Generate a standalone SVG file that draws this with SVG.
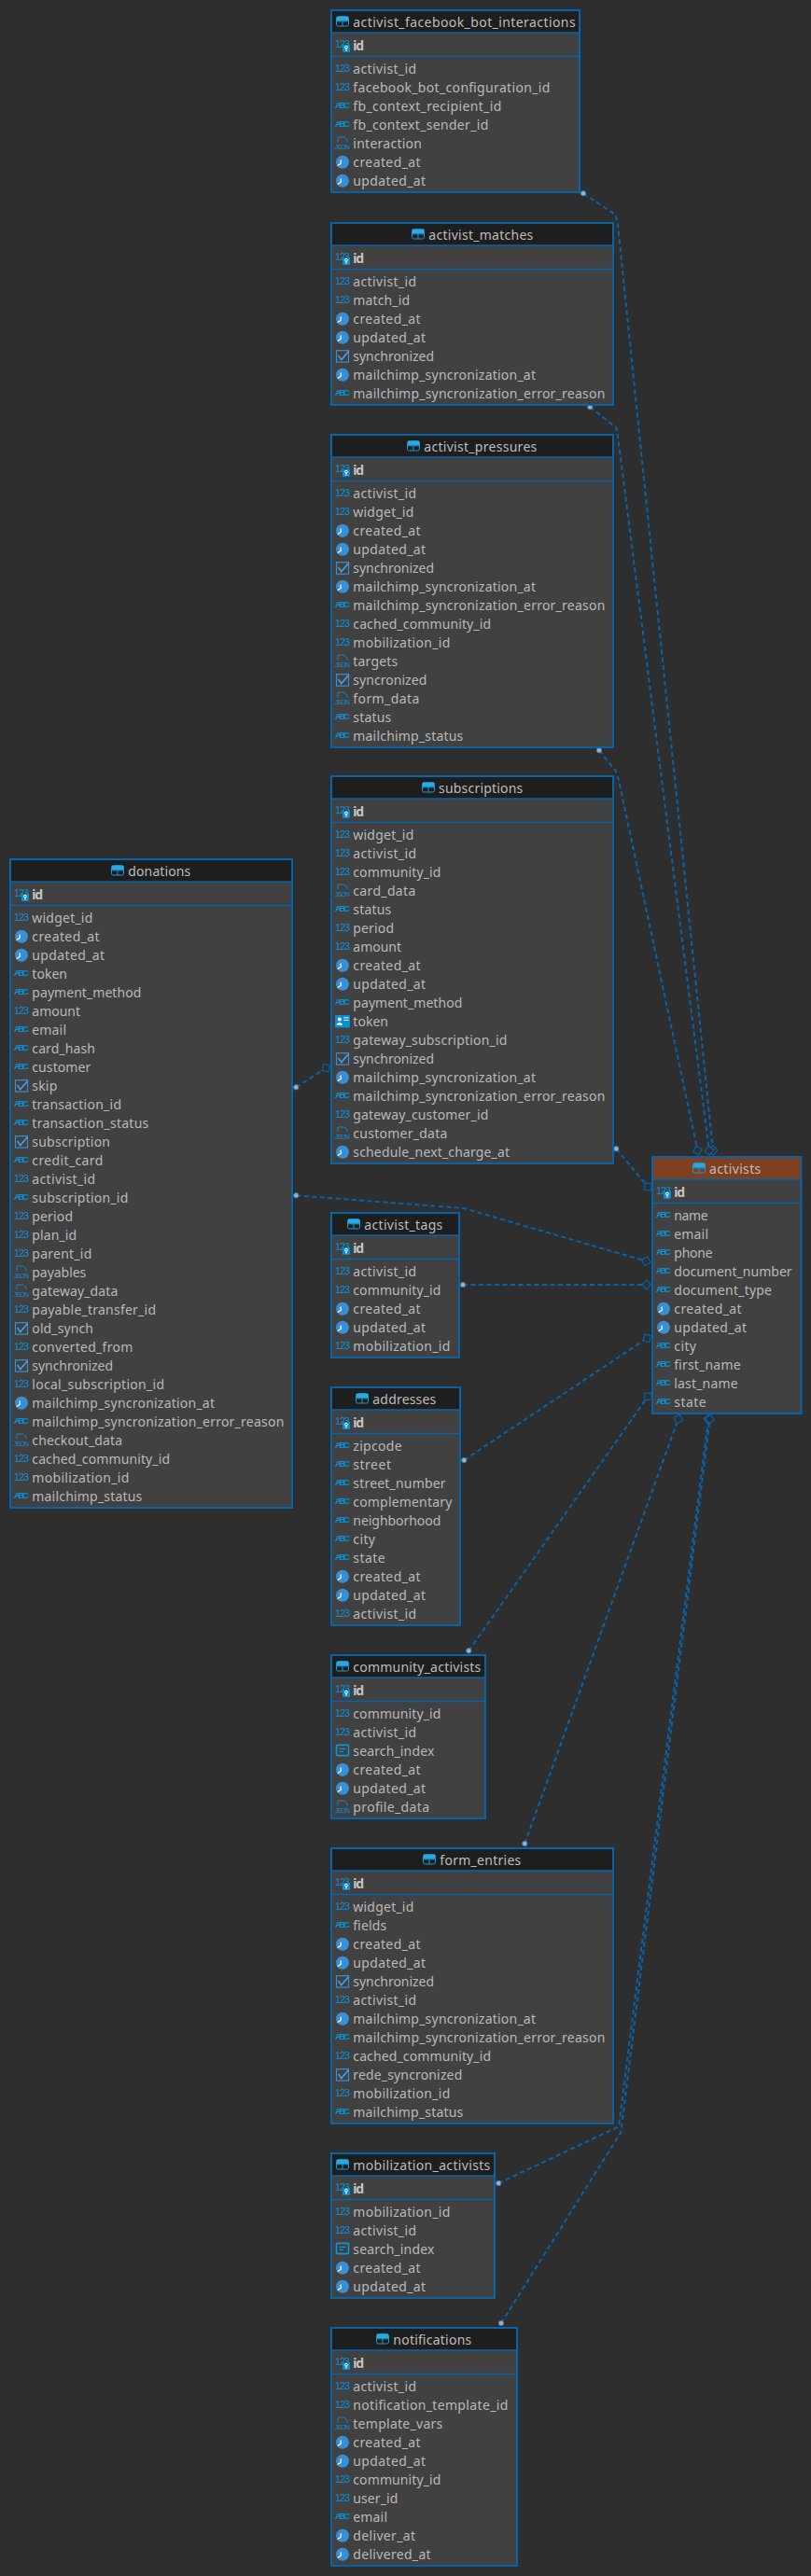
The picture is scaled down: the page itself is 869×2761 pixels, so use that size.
<svg xmlns="http://www.w3.org/2000/svg" width="869" height="2761" viewBox="0 0 869 2761">
<style>
text{font-family:"Noto Sans","Open Sans","DejaVu Sans",sans-serif;font-size:14px;fill:#b9b9b9}
.p{font-weight:700;fill:#c6c6c6}
.t{fill:#bdbdbd;font-size:14px}
.b{fill:#414141;stroke:#0664ad;stroke-width:2}
.h{fill:#1e1e1e}
.ha{fill:#7f401f}
.l{stroke:#0664ad;stroke-width:1.3;fill:none}
.c{fill:none;stroke:#0664ad;stroke-width:2;stroke-dasharray:5 3.5;marker-start:url(#dot);marker-end:url(#dia)}
.ic{fill:#0a8fd4;font-family:"Liberation Sans",sans-serif}
</style>
<defs>
<marker id="dot" markerUnits="userSpaceOnUse" markerWidth="8" markerHeight="8" refX="4" refY="4" overflow="visible"><circle cx="4" cy="4" r="2.7" fill="#a3aeb8" stroke="#2a78b8" stroke-width="0.9" stroke-dasharray="none"/></marker>
<marker id="dia" markerUnits="userSpaceOnUse" markerWidth="12" markerHeight="12" refX="6" refY="6" orient="auto" overflow="visible"><path d="M1 6 6 1 11 6 6 11Z" fill="#2e2e2e" stroke="#0664ad" stroke-width="1.1"/></marker>
<g id="n"><text class="ic" y="-2.4" textLength="16" style="font-size:11px">123</text></g>
<g id="a"><text class="ic" y="-2.6" textLength="16" style="font-size:9.6px;font-weight:700">ABC</text></g>
<g id="k"><circle cx="8" cy="-5.3" r="7" fill="#3a8fd4"/><path d="M6.2-7.5V-3.6L2.6-1.6" fill="none" stroke="#fff" stroke-width="1.2"/></g>
<g id="x"><rect x="1.5" y="-11.3" width="13" height="12.4" fill="none" stroke="#3a8fd4" stroke-width="1.2"/><path d="M3.6-6 6.8-1.4 14.6-10.4" fill="none" stroke="#4a9fe0" stroke-width="1.6"/></g>
<g id="j"><path d="M3-6.5V-12H10L13-9V-6.5" fill="none" stroke="#0a8fd4" stroke-width=".9"/><text class="ic" y="0.6" textLength="16" style="font-size:6.8px">JSON</text></g>
<g id="s"><rect x="1.5" y="-11.6" width="13" height="11.2" rx="1" fill="none" stroke="#0a9ad8" stroke-width="1.6"/><path d="M4.5-7.6H11.5M4.5-4.6H9" stroke="#0a9ad8" stroke-width="1.4"/></g>
<g id="o"><rect x="0" y="-12" width="16" height="13.4" rx="1.2" fill="#0a8fd4"/><circle cx="4.8" cy="-7.4" r="2" fill="#fff"/><path d="M1.6-1.2C1.6-5 8-5 8-1.2Z" fill="#fff"/><path d="M9.5-9.2H14.5M9.5-6.6H14.5" stroke="#fff" stroke-width="1"/></g>
<g id="y"><text class="ic" y="-3.3" textLength="16" style="font-size:11px">123</text><rect x="8" y="-5.8" width="8" height="7.6" fill="#0a8fd4"/><circle cx="12" cy="-3.4" r="1.4" fill="none" stroke="#fff"/><path d="M12-2V.8" stroke="#fff"/></g>
<g id="w"><rect x="0.5" y="-11.4" width="13" height="10.4" rx="1.8" fill="none" stroke="#1a9ad8"/><path d="M1-11H13.2V-6.6H1Z" fill="#2aa8e2"/><path d="M7-6.4V-1.2M1-6.2H13.4" stroke="#1a9ad8"/></g>
</defs>
<rect width="869" height="2761" fill="#2e2e2e"/>
<g id="connectors">
<path class="c" d="M625 207.3 659.3 230 661.7 238 764 1233"/>
<path class="c" d="M632.3 436.3 660 458 661.7 465 759.8 1233"/>
<path class="c" d="M642 804.3 660 826.7 662.7 835 747.5 1233"/>
<path class="c" d="M660.3 1231.3 694.3 1272"/>
<path class="c" d="M317.3 1165.3 349.3 1144.7"/>
<path class="c" d="M317.3 1281.3 496.7 1295 692.3 1351.7"/>
<path class="c" d="M496 1377H692.7"/>
<path class="c" d="M497.3 1565 693.3 1434.3"/>
<path class="c" d="M502.3 1769.3 694.3 1496.7"/>
<path class="c" d="M562.3 1976 726.7 1521"/>
<path class="c" d="M534.3 2340 663 2279.3 759 1521"/>
<path class="c" d="M537 2490 665.3 2285.5 760.6 1521"/>
</g>
<g id="activist_facebook_bot_interactions" transform="translate(354,10)">
<rect class="b" x="1" y="1" width="266" height="195"/><rect class="h" x="2" y="2" width="264" height="23"/><path class="l" d="M2 25H266M2 50.5H266"/>
<use href="#w" x="6" y="19"/><text class="t" x="24.3" y="19" textLength="238.3">activist_facebook_bot_interactions</text>
<use href="#y" x="5" y="44"/><text class="p" x="24.3" y="44" textLength="11.7">id</text>
<use href="#n" x="5" y="69"/><text x="24.3" y="69" textLength="67.7">activist_id</text>
<use href="#n" x="5" y="89"/><text x="24.3" y="89" textLength="211">facebook_bot_configuration_id</text>
<use href="#a" x="5" y="109"/><text x="24.3" y="109" textLength="159">fb_context_recipient_id</text>
<use href="#a" x="5" y="129"/><text x="24.3" y="129" textLength="145">fb_context_sender_id</text>
<use href="#j" x="5" y="149"/><text x="24.3" y="149" textLength="73.7">interaction</text>
<use href="#k" x="5" y="169"/><text x="24.3" y="169" textLength="72.3">created_at</text>
<use href="#k" x="5" y="189"/><text x="24.3" y="189" textLength="77.7">updated_at</text>
</g>
<g id="activist_matches" transform="translate(354,238)">
<rect class="b" x="1" y="1" width="302" height="195"/><rect class="h" x="2" y="2" width="300" height="23"/><path class="l" d="M2 25H302M2 50.5H302"/>
<use href="#w" x="87" y="19"/><text class="t" x="105.3" y="19" textLength="112">activist_matches</text>
<use href="#y" x="5" y="44"/><text class="p" x="24.3" y="44" textLength="11.7">id</text>
<use href="#n" x="5" y="69"/><text x="24.3" y="69" textLength="67.7">activist_id</text>
<use href="#n" x="5" y="89"/><text x="24.3" y="89" textLength="60.7">match_id</text>
<use href="#k" x="5" y="109"/><text x="24.3" y="109" textLength="72.3">created_at</text>
<use href="#k" x="5" y="129"/><text x="24.3" y="129" textLength="77.7">updated_at</text>
<use href="#x" x="5" y="149"/><text x="24.3" y="149" textLength="86.7">synchronized</text>
<use href="#k" x="5" y="169"/><text x="24.3" y="169" textLength="195.7">mailchimp_syncronization_at</text>
<use href="#a" x="5" y="189"/><text x="24.3" y="189" textLength="270">mailchimp_syncronization_error_reason</text>
</g>
<g id="activist_pressures" transform="translate(354,465)">
<rect class="b" x="1" y="1" width="302" height="335"/><rect class="h" x="2" y="2" width="300" height="23"/><path class="l" d="M2 25H302M2 50.5H302"/>
<use href="#w" x="82" y="19"/><text class="t" x="100.3" y="19" textLength="121">activist_pressures</text>
<use href="#y" x="5" y="44"/><text class="p" x="24.3" y="44" textLength="11.7">id</text>
<use href="#n" x="5" y="69"/><text x="24.3" y="69" textLength="67.7">activist_id</text>
<use href="#n" x="5" y="89"/><text x="24.3" y="89" textLength="65">widget_id</text>
<use href="#k" x="5" y="109"/><text x="24.3" y="109" textLength="72.3">created_at</text>
<use href="#k" x="5" y="129"/><text x="24.3" y="129" textLength="77.7">updated_at</text>
<use href="#x" x="5" y="149"/><text x="24.3" y="149" textLength="86.7">synchronized</text>
<use href="#k" x="5" y="169"/><text x="24.3" y="169" textLength="195.7">mailchimp_syncronization_at</text>
<use href="#a" x="5" y="189"/><text x="24.3" y="189" textLength="270">mailchimp_syncronization_error_reason</text>
<use href="#n" x="5" y="209"/><text x="24.3" y="209" textLength="147.7">cached_community_id</text>
<use href="#n" x="5" y="229"/><text x="24.3" y="229" textLength="104">mobilization_id</text>
<use href="#j" x="5" y="249"/><text x="24.3" y="249" textLength="48">targets</text>
<use href="#x" x="5" y="269"/><text x="24.3" y="269" textLength="79">syncronized</text>
<use href="#j" x="5" y="289"/><text x="24.3" y="289" textLength="71">form_data</text>
<use href="#a" x="5" y="309"/><text x="24.3" y="309" textLength="41">status</text>
<use href="#a" x="5" y="329"/><text x="24.3" y="329" textLength="118">mailchimp_status</text>
</g>
<g id="subscriptions" transform="translate(354,831)">
<rect class="b" x="1" y="1" width="302" height="415"/><rect class="h" x="2" y="2" width="300" height="23"/><path class="l" d="M2 25H302M2 50.5H302"/>
<use href="#w" x="98" y="19"/><text class="t" x="116" y="19" textLength="90.3">subscriptions</text>
<use href="#y" x="5" y="44"/><text class="p" x="24.3" y="44" textLength="11.7">id</text>
<use href="#n" x="5" y="69"/><text x="24.3" y="69" textLength="65">widget_id</text>
<use href="#n" x="5" y="89"/><text x="24.3" y="89" textLength="67.7">activist_id</text>
<use href="#n" x="5" y="109"/><text x="24.3" y="109" textLength="94">community_id</text>
<use href="#j" x="5" y="129"/><text x="24.3" y="129" textLength="67">card_data</text>
<use href="#a" x="5" y="149"/><text x="24.3" y="149" textLength="41">status</text>
<use href="#n" x="5" y="169"/><text x="24.3" y="169" textLength="43.7">period</text>
<use href="#n" x="5" y="189"/><text x="24.3" y="189" textLength="51.7">amount</text>
<use href="#k" x="5" y="209"/><text x="24.3" y="209" textLength="72.3">created_at</text>
<use href="#k" x="5" y="229"/><text x="24.3" y="229" textLength="77.7">updated_at</text>
<use href="#a" x="5" y="249"/><text x="24.3" y="249" textLength="117">payment_method</text>
<use href="#o" x="5" y="269"/><text x="24.3" y="269" textLength="37.7">token</text>
<use href="#n" x="5" y="289"/><text x="24.3" y="289" textLength="165">gateway_subscription_id</text>
<use href="#x" x="5" y="309"/><text x="24.3" y="309" textLength="86.7">synchronized</text>
<use href="#k" x="5" y="329"/><text x="24.3" y="329" textLength="195.7">mailchimp_syncronization_at</text>
<use href="#a" x="5" y="349"/><text x="24.3" y="349" textLength="270">mailchimp_syncronization_error_reason</text>
<use href="#n" x="5" y="369"/><text x="24.3" y="369" textLength="145">gateway_customer_id</text>
<use href="#j" x="5" y="389"/><text x="24.3" y="389" textLength="101">customer_data</text>
<use href="#k" x="5" y="409"/><text x="24.3" y="409" textLength="167.7">schedule_next_charge_at</text>
</g>
<g id="donations" transform="translate(10,920)">
<rect class="b" x="1" y="1" width="302" height="695"/><rect class="h" x="2" y="2" width="300" height="23"/><path class="l" d="M2 25H302M2 50.5H302"/>
<use href="#w" x="109" y="19"/><text class="t" x="127.3" y="19" textLength="67">donations</text>
<use href="#y" x="5" y="44"/><text class="p" x="24.3" y="44" textLength="11.7">id</text>
<use href="#n" x="5" y="69"/><text x="24.3" y="69" textLength="65">widget_id</text>
<use href="#k" x="5" y="89"/><text x="24.3" y="89" textLength="72.3">created_at</text>
<use href="#k" x="5" y="109"/><text x="24.3" y="109" textLength="77.7">updated_at</text>
<use href="#a" x="5" y="129"/><text x="24.3" y="129" textLength="37.7">token</text>
<use href="#a" x="5" y="149"/><text x="24.3" y="149" textLength="117">payment_method</text>
<use href="#n" x="5" y="169"/><text x="24.3" y="169" textLength="51.7">amount</text>
<use href="#a" x="5" y="189"/><text x="24.3" y="189" textLength="36.7">email</text>
<use href="#a" x="5" y="209"/><text x="24.3" y="209" textLength="67.7">card_hash</text>
<use href="#a" x="5" y="229"/><text x="24.3" y="229" textLength="63">customer</text>
<use href="#x" x="5" y="249"/><text x="24.3" y="249" textLength="27">skip</text>
<use href="#a" x="5" y="269"/><text x="24.3" y="269" textLength="95.7">transaction_id</text>
<use href="#a" x="5" y="289"/><text x="24.3" y="289" textLength="125">transaction_status</text>
<use href="#x" x="5" y="309"/><text x="24.3" y="309" textLength="83.7">subscription</text>
<use href="#a" x="5" y="329"/><text x="24.3" y="329" textLength="76">credit_card</text>
<use href="#n" x="5" y="349"/><text x="24.3" y="349" textLength="67.7">activist_id</text>
<use href="#a" x="5" y="369"/><text x="24.3" y="369" textLength="103">subscription_id</text>
<use href="#n" x="5" y="389"/><text x="24.3" y="389" textLength="43.7">period</text>
<use href="#n" x="5" y="409"/><text x="24.3" y="409" textLength="47.7">plan_id</text>
<use href="#n" x="5" y="429"/><text x="24.3" y="429" textLength="64">parent_id</text>
<use href="#j" x="5" y="449"/><text x="24.3" y="449" textLength="58">payables</text>
<use href="#j" x="5" y="469"/><text x="24.3" y="469" textLength="92">gateway_data</text>
<use href="#n" x="5" y="489"/><text x="24.3" y="489" textLength="132.7">payable_transfer_id</text>
<use href="#x" x="5" y="509"/><text x="24.3" y="509" textLength="65.7">old_synch</text>
<use href="#n" x="5" y="529"/><text x="24.3" y="529" textLength="108">converted_from</text>
<use href="#x" x="5" y="549"/><text x="24.3" y="549" textLength="86.7">synchronized</text>
<use href="#n" x="5" y="569"/><text x="24.3" y="569" textLength="141.7">local_subscription_id</text>
<use href="#k" x="5" y="589"/><text x="24.3" y="589" textLength="195.7">mailchimp_syncronization_at</text>
<use href="#a" x="5" y="609"/><text x="24.3" y="609" textLength="270">mailchimp_syncronization_error_reason</text>
<use href="#j" x="5" y="629"/><text x="24.3" y="629" textLength="96.7">checkout_data</text>
<use href="#n" x="5" y="649"/><text x="24.3" y="649" textLength="147.7">cached_community_id</text>
<use href="#n" x="5" y="669"/><text x="24.3" y="669" textLength="104">mobilization_id</text>
<use href="#a" x="5" y="689"/><text x="24.3" y="689" textLength="118">mailchimp_status</text>
</g>
<g id="activists" transform="translate(698,1239)">
<rect class="b" x="1" y="1" width="159.5" height="275"/><rect class="ha" x="2" y="2" width="157.5" height="23"/><path class="l" d="M2 25H159.5M2 50.5H159.5"/>
<use href="#w" x="44" y="19"/><text class="t" x="62" y="19" textLength="55.3">activists</text>
<use href="#y" x="5" y="44"/><text class="p" x="24.3" y="44" textLength="11.7">id</text>
<use href="#a" x="5" y="69"/><text x="24.3" y="69" textLength="36.3">name</text>
<use href="#a" x="5" y="89"/><text x="24.3" y="89" textLength="36.7">email</text>
<use href="#a" x="5" y="109"/><text x="24.3" y="109" textLength="41.3">phone</text>
<use href="#a" x="5" y="129"/><text x="24.3" y="129" textLength="126.3">document_number</text>
<use href="#a" x="5" y="149"/><text x="24.3" y="149" textLength="104.7">document_type</text>
<use href="#k" x="5" y="169"/><text x="24.3" y="169" textLength="72.3">created_at</text>
<use href="#k" x="5" y="189"/><text x="24.3" y="189" textLength="77.7">updated_at</text>
<use href="#a" x="5" y="209"/><text x="24.3" y="209" textLength="23.7">city</text>
<use href="#a" x="5" y="229"/><text x="24.3" y="229" textLength="71.3">first_name</text>
<use href="#a" x="5" y="249"/><text x="24.3" y="249" textLength="68.3">last_name</text>
<use href="#a" x="5" y="269"/><text x="24.3" y="269" textLength="34.3">state</text>
</g>
<g id="activist_tags" transform="translate(354,1299)">
<rect class="b" x="1" y="1" width="137" height="155"/><rect class="h" x="2" y="2" width="135" height="23"/><path class="l" d="M2 25H137M2 50.5H137"/>
<use href="#w" x="18" y="19"/><text class="t" x="36.3" y="19" textLength="84">activist_tags</text>
<use href="#y" x="5" y="44"/><text class="p" x="24.3" y="44" textLength="11.7">id</text>
<use href="#n" x="5" y="69"/><text x="24.3" y="69" textLength="67.7">activist_id</text>
<use href="#n" x="5" y="89"/><text x="24.3" y="89" textLength="94">community_id</text>
<use href="#k" x="5" y="109"/><text x="24.3" y="109" textLength="72.3">created_at</text>
<use href="#k" x="5" y="129"/><text x="24.3" y="129" textLength="77.7">updated_at</text>
<use href="#n" x="5" y="149"/><text x="24.3" y="149" textLength="104">mobilization_id</text>
</g>
<g id="addresses" transform="translate(354,1486)">
<rect class="b" x="1" y="1" width="138" height="255"/><rect class="h" x="2" y="2" width="136" height="23"/><path class="l" d="M2 25H138M2 50.5H138"/>
<use href="#w" x="27" y="19"/><text class="t" x="45.3" y="19" textLength="68">addresses</text>
<use href="#y" x="5" y="44"/><text class="p" x="24.3" y="44" textLength="11.7">id</text>
<use href="#a" x="5" y="69"/><text x="24.3" y="69" textLength="52.3">zipcode</text>
<use href="#a" x="5" y="89"/><text x="24.3" y="89" textLength="40.7">street</text>
<use href="#a" x="5" y="109"/><text x="24.3" y="109" textLength="99.3">street_number</text>
<use href="#a" x="5" y="129"/><text x="24.3" y="129" textLength="106">complementary</text>
<use href="#a" x="5" y="149"/><text x="24.3" y="149" textLength="94">neighborhood</text>
<use href="#a" x="5" y="169"/><text x="24.3" y="169" textLength="23.7">city</text>
<use href="#a" x="5" y="189"/><text x="24.3" y="189" textLength="34.3">state</text>
<use href="#k" x="5" y="209"/><text x="24.3" y="209" textLength="72.3">created_at</text>
<use href="#k" x="5" y="229"/><text x="24.3" y="229" textLength="77.7">updated_at</text>
<use href="#n" x="5" y="249"/><text x="24.3" y="249" textLength="67.7">activist_id</text>
</g>
<g id="community_activists" transform="translate(354,1773)">
<rect class="b" x="1" y="1" width="165" height="175"/><rect class="h" x="2" y="2" width="163" height="23"/><path class="l" d="M2 25H165M2 50.5H165"/>
<use href="#w" x="6" y="19"/><text class="t" x="24.3" y="19" textLength="137">community_activists</text>
<use href="#y" x="5" y="44"/><text class="p" x="24.3" y="44" textLength="11.7">id</text>
<use href="#n" x="5" y="69"/><text x="24.3" y="69" textLength="94">community_id</text>
<use href="#n" x="5" y="89"/><text x="24.3" y="89" textLength="67.7">activist_id</text>
<use href="#s" x="5" y="109"/><text x="24.3" y="109" textLength="87">search_index</text>
<use href="#k" x="5" y="129"/><text x="24.3" y="129" textLength="72.3">created_at</text>
<use href="#k" x="5" y="149"/><text x="24.3" y="149" textLength="77.7">updated_at</text>
<use href="#j" x="5" y="169"/><text x="24.3" y="169" textLength="81.7">profile_data</text>
</g>
<g id="form_entries" transform="translate(354,1980)">
<rect class="b" x="1" y="1" width="302" height="295"/><rect class="h" x="2" y="2" width="300" height="23"/><path class="l" d="M2 25H302M2 50.5H302"/>
<use href="#w" x="99" y="19"/><text class="t" x="117.3" y="19" textLength="87">form_entries</text>
<use href="#y" x="5" y="44"/><text class="p" x="24.3" y="44" textLength="11.7">id</text>
<use href="#n" x="5" y="69"/><text x="24.3" y="69" textLength="65">widget_id</text>
<use href="#a" x="5" y="89"/><text x="24.3" y="89" textLength="36">fields</text>
<use href="#k" x="5" y="109"/><text x="24.3" y="109" textLength="72.3">created_at</text>
<use href="#k" x="5" y="129"/><text x="24.3" y="129" textLength="77.7">updated_at</text>
<use href="#x" x="5" y="149"/><text x="24.3" y="149" textLength="86.7">synchronized</text>
<use href="#n" x="5" y="169"/><text x="24.3" y="169" textLength="67.7">activist_id</text>
<use href="#k" x="5" y="189"/><text x="24.3" y="189" textLength="195.7">mailchimp_syncronization_at</text>
<use href="#a" x="5" y="209"/><text x="24.3" y="209" textLength="270">mailchimp_syncronization_error_reason</text>
<use href="#n" x="5" y="229"/><text x="24.3" y="229" textLength="147.7">cached_community_id</text>
<use href="#x" x="5" y="249"/><text x="24.3" y="249" textLength="117">rede_syncronized</text>
<use href="#n" x="5" y="269"/><text x="24.3" y="269" textLength="104">mobilization_id</text>
<use href="#a" x="5" y="289"/><text x="24.3" y="289" textLength="118">mailchimp_status</text>
</g>
<g id="mobilization_activists" transform="translate(354,2307)">
<rect class="b" x="1" y="1" width="175" height="155"/><rect class="h" x="2" y="2" width="173" height="23"/><path class="l" d="M2 25H175M2 50.5H175"/>
<use href="#w" x="6" y="19"/><text class="t" x="24.3" y="19" textLength="147">mobilization_activists</text>
<use href="#y" x="5" y="44"/><text class="p" x="24.3" y="44" textLength="11.7">id</text>
<use href="#n" x="5" y="69"/><text x="24.3" y="69" textLength="104">mobilization_id</text>
<use href="#n" x="5" y="89"/><text x="24.3" y="89" textLength="67.7">activist_id</text>
<use href="#s" x="5" y="109"/><text x="24.3" y="109" textLength="87">search_index</text>
<use href="#k" x="5" y="129"/><text x="24.3" y="129" textLength="72.3">created_at</text>
<use href="#k" x="5" y="149"/><text x="24.3" y="149" textLength="77.7">updated_at</text>
</g>
<g id="notifications" transform="translate(354,2494)">
<rect class="b" x="1" y="1" width="199" height="255"/><rect class="h" x="2" y="2" width="197" height="23"/><path class="l" d="M2 25H199M2 50.5H199"/>
<use href="#w" x="49" y="19"/><text class="t" x="67.3" y="19" textLength="84">notifications</text>
<use href="#y" x="5" y="44"/><text class="p" x="24.3" y="44" textLength="11.7">id</text>
<use href="#n" x="5" y="69"/><text x="24.3" y="69" textLength="67.7">activist_id</text>
<use href="#n" x="5" y="89"/><text x="24.3" y="89" textLength="166">notification_template_id</text>
<use href="#j" x="5" y="109"/><text x="24.3" y="109" textLength="96">template_vars</text>
<use href="#k" x="5" y="129"/><text x="24.3" y="129" textLength="72.3">created_at</text>
<use href="#k" x="5" y="149"/><text x="24.3" y="149" textLength="77.7">updated_at</text>
<use href="#n" x="5" y="169"/><text x="24.3" y="169" textLength="94">community_id</text>
<use href="#n" x="5" y="189"/><text x="24.3" y="189" textLength="48">user_id</text>
<use href="#a" x="5" y="209"/><text x="24.3" y="209" textLength="36.7">email</text>
<use href="#k" x="5" y="229"/><text x="24.3" y="229" textLength="66.7">deliver_at</text>
<use href="#k" x="5" y="249"/><text x="24.3" y="249" textLength="83.3">delivered_at</text>
</g>
</svg>
